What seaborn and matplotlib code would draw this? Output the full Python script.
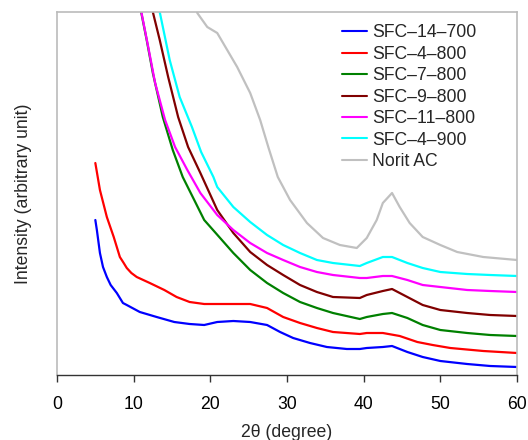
import matplotlib
matplotlib.use("Agg")
import matplotlib.pyplot as plt
import seaborn as sns
import pandas as pd

names = ["SFC\u201314\u2013700", "SFC\u20134\u2013800", "SFC\u20137\u2013800", "SFC\u20139\u2013800",
         "SFC\u201311\u2013800", "SFC\u20134\u2013900", "Norit AC"]
colors = ["#0000ff", "#ff0000", "#008000", "#800000", "#ff00ff", "#00ffff", "#c0c0c0"]

blue_x = [5.0, 5.2, 5.6, 6.0, 6.5, 7.0, 7.8, 8.6, 9.1, 10.8, 13.0, 15.3, 17.3, 19.2, 20.9, 23.0, 25.2, 27.4, 29.1, 30.8, 33.0, 35.2, 37.8, 39.5, 40.4, 42.5, 43.7, 45.7, 47.7, 50.0, 53.5, 56.5, 60.0]
blue_y = [155, 145, 122, 108, 98, 90, 82, 72, 70, 63, 58, 53, 51, 50, 53, 54, 53, 50, 43, 37, 32, 28, 26, 26, 27, 28, 29, 23, 18, 14, 11, 9, 8]

red_x = [5.0, 5.6, 6.5, 7.4, 8.2, 8.7, 9.1, 9.7, 10.4, 12.1, 14.0, 15.6, 17.3, 19.2, 20.9, 23.0, 25.2, 27.4, 29.5, 31.7, 33.9, 36.0, 39.5, 40.4, 42.5, 44.7, 47.0, 49.0, 51.3, 55.6, 60.0]
red_y = [212, 185, 158, 138, 118, 112, 107, 102, 98, 92, 85, 78, 73, 71, 71, 71, 71, 67, 58, 52, 47, 43, 41, 42, 42, 39, 33, 30, 27, 24, 22]

green_x = [10.5, 11.0, 11.7, 12.5, 13.8, 15.1, 16.4, 17.9, 19.2, 20.7, 23.0, 25.2, 27.4, 29.5, 31.7, 33.9, 36.0, 39.5, 40.4, 42.5, 43.7, 45.7, 47.7, 50.0, 53.5, 56.5, 60.0]
green_y = [378, 362, 335, 302, 258, 225, 198, 175, 155, 142, 122, 105, 92, 82, 73, 67, 62, 56, 58, 61, 62, 57, 50, 45, 42, 40, 39]

dred_x = [12.2, 12.5, 13.4, 14.5, 15.8, 17.1, 18.7, 20.9, 23.0, 25.2, 27.4, 29.5, 31.7, 33.9, 36.0, 39.5, 40.4, 42.5, 43.7, 45.7, 47.7, 50.0, 53.5, 56.5, 60.0]
dred_y = [378, 363, 335, 298, 258, 228, 202, 165, 142, 123, 110, 100, 90, 83, 78, 77, 80, 84, 86, 78, 70, 65, 62, 60, 59]

mag_x = [10.5, 11.0, 11.9, 12.8, 14.1, 15.4, 17.0, 18.7, 20.9, 23.0, 25.2, 27.4, 29.5, 31.7, 33.9, 36.0, 39.5, 40.4, 42.5, 43.7, 45.7, 47.7, 50.0, 53.5, 56.5, 60.0]
mag_y = [378, 363, 328, 292, 255, 228, 205, 182, 160, 145, 132, 122, 115, 108, 103, 100, 97, 97, 99, 99, 95, 90, 88, 85, 84, 83]

cyan_x = [13.2, 13.4, 14.7, 16.0, 17.6, 18.8, 20.4, 20.9, 23.0, 25.2, 27.4, 29.5, 31.7, 33.9, 36.0, 39.5, 40.4, 42.5, 43.7, 45.7, 47.7, 50.0, 53.5, 56.5, 60.0]
cyan_y = [378, 363, 315, 278, 248, 223, 198, 188, 168, 153, 140, 130, 122, 115, 112, 109, 112, 118, 118, 112, 107, 103, 101, 100, 99]

gray_x = [18.0, 18.3, 19.6, 20.9, 22.2, 23.5, 25.2, 26.5, 27.6, 28.8, 30.4, 32.6, 34.7, 36.9, 39.1, 40.4, 41.7, 42.5, 43.7, 44.7, 46.0, 47.7, 50.0, 52.2, 55.6, 60.0]
gray_y = [378, 362, 348, 342, 325, 308, 282, 255, 227, 198, 175, 152, 137, 130, 127, 137, 155, 172, 182, 168, 152, 138, 130, 123, 118, 115]

series = [(blue_x, blue_y), (red_x, red_y), (green_x, green_y), (dred_x, dred_y),
          (mag_x, mag_y), (cyan_x, cyan_y), (gray_x, gray_y)]

rows = []
for name, (xs, ys) in zip(names, series):
    for x, y in zip(xs, ys):
        rows.append({"x": x, "y": y, "s": name})
df = pd.DataFrame(rows)

sns.set_style("white")
plt.rcParams['font.family'] = ['Liberation Sans', 'DejaVu Sans']
FS = 12.7

fig = plt.figure(figsize=(5.28, 4.4), dpi=100)
ax = fig.add_axes([57/528, 65/440, 460/528, 363/440])

sns.lineplot(data=df, x="x", y="y", hue="s", hue_order=names,
             palette=dict(zip(names, colors)), sort=False, estimator=None,
             linewidth=1.6, ax=ax)

ax.set_xlim(0, 60)
ax.set_ylim(0, 363)
ax.set_xticks([0, 10, 20, 30, 40, 50, 60])
ax.set_yticks([])
ax.tick_params(axis='x', direction='out', length=4.8, width=1, colors='#333333',
               labelsize=FS, labelcolor='black', pad=10, bottom=True)
for s in ['left', 'top', 'right']:
    ax.spines[s].set_color('#bbbbbb')
    ax.spines[s].set_linewidth(1.2)
ax.spines['bottom'].set_color('#333333')
ax.spines['bottom'].set_linewidth(1.0)

ax.set_xlabel("2\u03b8 (degree)", fontsize=FS, labelpad=8)
ax.set_ylabel("Intensity (arbitrary unit)", fontsize=FS, labelpad=18)

leg = ax.legend(loc='upper left', bbox_to_anchor=(342/528, (440 - 24.5)/440),
                bbox_transform=fig.transFigure, frameon=False, fontsize=FS,
                handlelength=1.42, handletextpad=0.27, labelspacing=0.25,
                borderpad=0, borderaxespad=0)
for line in leg.get_lines():
    line.set_linewidth(1.5)

fig.savefig("out.png", dpi=100)
